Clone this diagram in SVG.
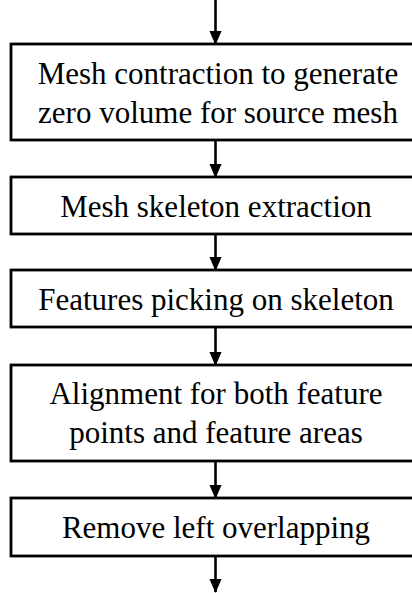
<svg xmlns="http://www.w3.org/2000/svg" width="412" height="593" viewBox="0 0 412 593">
<defs>
<marker id="ah" markerWidth="14" markerHeight="16" refX="15" refY="7" orient="auto" markerUnits="userSpaceOnUse" viewBox="0 0 16 14">
<path d="M0,0 L16,7 L0,14 Z" fill="#000"/>
</marker>
<style>
.box{fill:#fff;stroke:#000;stroke-width:2.8}
.lbl{font-family:"Liberation Serif","Times New Roman",serif;font-size:31px;fill:#000;text-anchor:middle}
.edge{stroke:#000;stroke-width:2.6;fill:none;marker-end:url(#ah)}
</style>
</defs>
<rect width="412" height="593" fill="#fff"/>
<g id="connectors">
<line class="edge" x1="215.5" y1="0" x2="215.5" y2="44"/>
<line class="edge" x1="215.5" y1="140" x2="215.5" y2="177"/>
<line class="edge" x1="215.5" y1="234" x2="215.5" y2="270"/>
<line class="edge" x1="215.5" y1="327" x2="215.5" y2="365"/>
<line class="edge" x1="215.5" y1="461" x2="215.5" y2="498"/>
<line class="edge" x1="215.5" y1="556" x2="215.5" y2="592"/>
</g>
<g id="n1">
<rect class="box" x="11" y="44" width="412" height="96"/>
<text class="lbl" x="218" y="84">Mesh contraction to generate</text>
<text class="lbl" x="218" y="123">zero volume for source mesh</text>
</g>
<g id="n2">
<rect class="box" x="11" y="177" width="412" height="57"/>
<text class="lbl" x="216" y="217">Mesh skeleton extraction</text>
</g>
<g id="n3">
<rect class="box" x="11" y="270" width="412" height="57"/>
<text class="lbl" x="216" y="310">Features picking on skeleton</text>
</g>
<g id="n4">
<rect class="box" x="11" y="365" width="412" height="96"/>
<text class="lbl" x="216" y="404">Alignment for both feature</text>
<text class="lbl" x="216" y="443">points and feature areas</text>
</g>
<g id="n5">
<rect class="box" x="11" y="498" width="412" height="58"/>
<text class="lbl" x="216" y="538">Remove left overlapping</text>
</g>
</svg>
